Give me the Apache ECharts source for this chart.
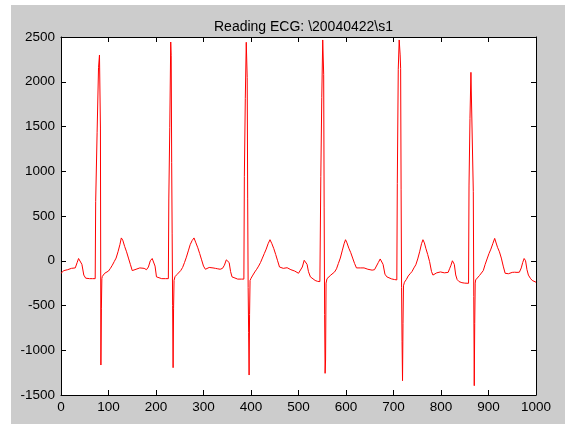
<!DOCTYPE html>
<html>
<head>
<meta charset="utf-8">
<script src="https://cdn.jsdelivr.net/npm/echarts@6/dist/echarts.min.js"></script>
<style>
  html, body { margin: 0; padding: 0; background: #ffffff; }
  #wrap { position: relative; width: 565px; height: 424px; overflow: hidden; }
  #bg { position: absolute; left: 11px; top: 5px; right: 0; bottom: 0; background: #cccccc; }
  #chart { position: absolute; left: 0; top: 0; width: 565px; height: 424px; }
</style>
</head>
<body>
<div id="wrap"><div id="bg"></div><div id="chart"></div></div>
<script>
const titleText = 'Reading ECG: \\20040422\\s1';
const xTicks = [0, 100, 200, 300, 400, 500, 600, 700, 800, 900, 1000];
const yTicks = [-1500, -1000, -500, 0, 500, 1000, 1500, 2000, 2500];

// [sample index, amplitude]
const leadIn = [
  [0,-140],[3,-125],[6,-110],[10,-105],[14,-100],[18,-95],[22,-85],[26,-90],[30,-80],
  [34,-20],[37,25],[41,25],[44,-40],[48,-160],[52,-195],[60,-200],[66,-200],[72,-200]
];
const beat1 = [
  [73,660],[74,660],[75,660],[76,1430],[77,1430],[78,1430],[79,2157],[80,2157],[81,2299],[82,2299],
  [83,1483],[84,-1165],[85,-530],[86,-200],[87,-175],
  [88,-160],[92,-140],[96,-125],[100,-115],[104,-85],[108,-50],[112,-10],[116,30],[120,100],
  [124,180],[127,255],[130,230],[134,160],[138,100],[142,30],[146,-40],[150,-110],[154,-115],
  [158,-95],[162,-80],[166,-80],[170,-90],[175,-85],[180,-100],[184,-70],[188,0],[192,25],
  [195,25],[198,-60],[201,-180],[205,-196],[212,-200],[220,-200],[226,-200]
];
const beat2 = [
  [227,690],[228,690],[229,1491],[230,1491],[231,2444],[232,2291],[233,1100],[234,300],[235,-500],
  [236,-1195],[237,-530],[238,-220],[240,-178],
  [244,-155],[248,-135],[252,-110],[256,-75],[260,-20],[264,40],[268,110],[272,180],[276,225],
  [280,255],[284,200],[288,145],[292,80],[296,10],[300,-60],[304,-95],[308,-90],[312,-75],
  [316,-75],[320,-80],[325,-85],[330,-90],[335,-95],[340,-85],[344,-50],[348,10],[351,25],
  [354,-20],[357,-120],[360,-180],[364,-200],[372,-205],[380,-205],[385,-205]
];
const beat3 = [
  [386,939],[387,939],[388,1815],[389,1815],[390,2441],[391,2441],[392,2046],[393,700],[394,-300],
  [395,-800],[396,-1277],[397,-600],[398,-220],[400,-196],
  [404,-160],[408,-125],[412,-95],[416,-60],[420,-20],[424,30],[428,80],[432,130],[436,190],
  [440,235],[444,190],[448,135],[452,70],[456,0],[460,-70],[464,-85],[468,-85],[472,-80],
  [476,-78],[480,-85],[484,-100],[488,-110],[492,-115],[496,-135],[500,-140],[504,-140],
  [508,-70],[512,5],[515,25],[518,-40],[521,-122],[525,-180],[529,-200],[535,-220],[540,-230],
  [545,-233],[546,-230]
];
const beat4 = [
  [547,939],[548,939],[549,1826],[550,1826],[551,2467],[552,2467],[553,2083],[554,600],[555,-600],
  [556,-1258],[557,-1109],[558,-250],[560,-200],
  [564,-178],[568,-160],[572,-140],[576,-125],[580,-90],[584,-30],[588,30],[592,110],[596,190],
  [599,235],[602,200],[606,140],[610,90],[614,30],[618,-30],[622,-80],[626,-85],[630,-80],
  [634,-77],[638,-80],[642,-90],[646,-95],[650,-100],[655,-105],[660,-100],[664,-80],[668,-20],
  [672,20],[675,25],[678,-40],[682,-150],[686,-180],[690,-190],[696,-203],[702,-210],[707,-214]
];
const beat5 = [
  [708,865],[709,865],[710,2139],[711,2139],[712,2467],[713,2467],[714,2300],[715,2150],[716,800],
  [717,-300],[718,-900],[719,-1340],[720,-700],[721,-280],[723,-240],
  [727,-210],[731,-170],[735,-145],[739,-120],[743,-80],[747,-45],[751,20],[755,100],[759,190],
  [762,235],[765,200],[768,140],[772,70],[776,-10],[780,-120],[783,-160],[787,-150],[791,-135],
  [795,-125],[799,-125],[803,-130],[807,-135],[811,-140],[815,-130],[818,-90],[821,-50],[824,0],
  [826,10],[828,-40],[831,-159],[834,-210],[838,-233],[844,-245],[850,-250],[858,-252]
];
const beat6 = [
  [859,846],[860,846],[861,1591],[862,1591],[863,2105],[864,2105],[865,2100],[866,2092],[867,2092],
  [868,772],[869,-400],[870,-1396],[871,-700],[872,-250],[873,-214],
  [877,-195],[881,-165],[885,-150],[889,-110],[893,-40],[897,20],[901,80],[905,130],[909,190],
  [913,250],[916,230],[919,150],[923,100],[927,30],[931,-60],[935,-140],[938,-160],[942,-145],
  [946,-135],[950,-130],[955,-128],[960,-130],[965,-128],[969,-80],[972,-20],[975,25],[978,0],
  [981,-100],[984,-160],[988,-195],[992,-220],[996,-235],[1000,-240]
];

const ecgData = [].concat(leadIn, beat1, beat2, beat3, beat4, beat5, beat6);

const font = "'Liberation Sans', Arial, Helvetica, sans-serif";
const plainNum = function (v) { return String(v); };
const axisCommon = {
  axisLine: { show: true, onZero: false, lineStyle: { color: '#000', width: 1 } },
  axisTick: { show: true, inside: true, length: 5, lineStyle: { color: '#000', width: 1 } },
  splitLine: { show: false },
  minorTick: { show: false }
};

const chart = echarts.init(document.getElementById('chart'), null, { renderer: 'canvas' });
chart.setOption({
  animation: false,
  backgroundColor: 'transparent',
  title: {
    text: titleText,
    left: 298.5,
    top: 15,
    textAlign: 'center',
    textStyle: { fontFamily: font, fontSize: 14, fontWeight: 'normal', color: '#000' }
  },
  grid: {
    left: 61, top: 37, width: 475, height: 358, containLabel: false, outerBoundsMode: 'none',
    show: true, backgroundColor: '#ffffff', borderWidth: 0
  },
  xAxis: [
    Object.assign({
      type: 'value', position: 'bottom',
      min: xTicks[0], max: xTicks[xTicks.length - 1], interval: xTicks[1] - xTicks[0],
      axisLabel: { show: true, margin: 5, color: '#000', fontFamily: font, fontSize: 13.5, showMinLabel: true, showMaxLabel: true, formatter: plainNum }
    }, axisCommon),
    Object.assign({
      type: 'value', position: 'top',
      min: xTicks[0], max: xTicks[xTicks.length - 1], interval: xTicks[1] - xTicks[0],
      axisLabel: { show: false }
    }, axisCommon)
  ],
  yAxis: [
    Object.assign({
      type: 'value', position: 'left',
      min: yTicks[0], max: yTicks[yTicks.length - 1], interval: yTicks[1] - yTicks[0],
      axisLabel: { show: true, margin: 6, color: '#000', fontFamily: font, fontSize: 13.5, showMinLabel: true, showMaxLabel: true, formatter: plainNum }
    }, axisCommon),
    Object.assign({
      type: 'value', position: 'right',
      min: yTicks[0], max: yTicks[yTicks.length - 1], interval: yTicks[1] - yTicks[0],
      axisLabel: { show: false }
    }, axisCommon)
  ],
  series: [{
    type: 'line',
    xAxisIndex: 0,
    yAxisIndex: 0,
    data: ecgData,
    showSymbol: false,
    symbol: 'none',
    smooth: false,
    lineStyle: { color: '#ff0000', width: 1 },
    emphasis: { disabled: true }
  }]
});
</script>
</body>
</html>
